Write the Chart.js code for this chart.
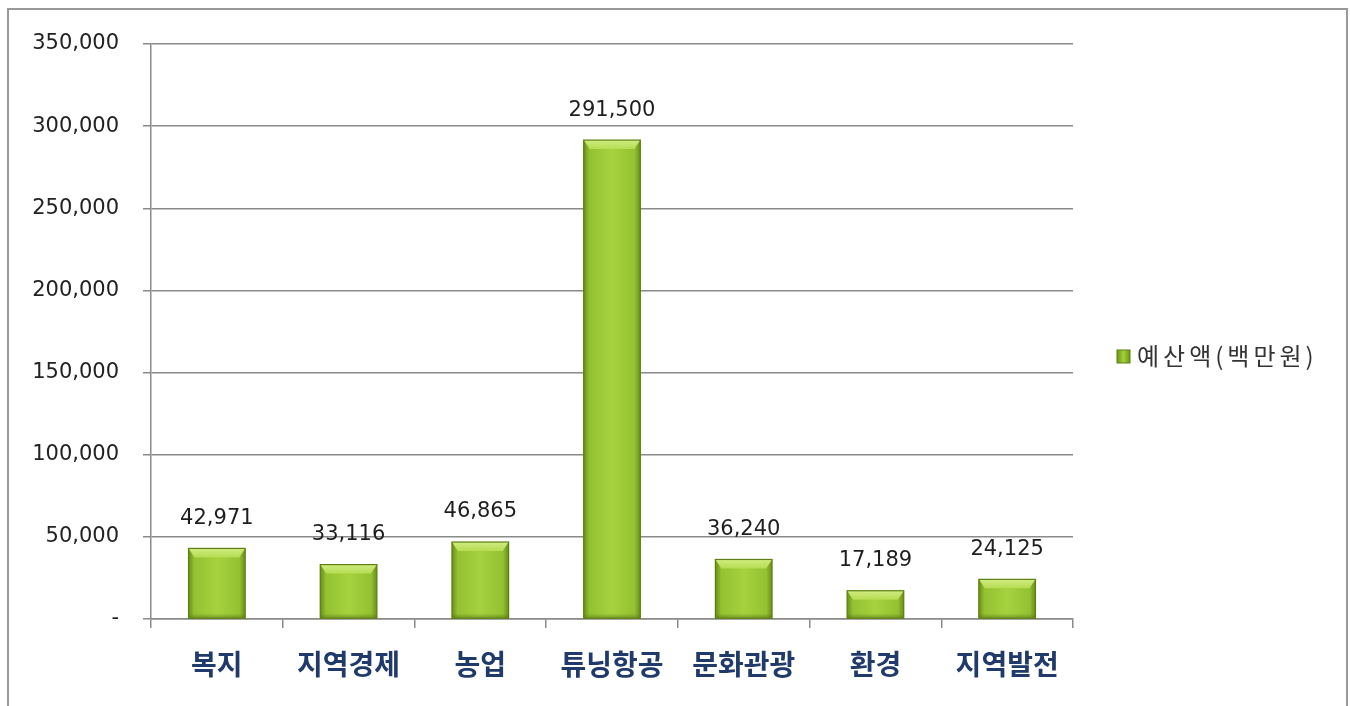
<!DOCTYPE html>
<html>
<head>
<meta charset="utf-8">
<script src="https://cdn.jsdelivr.net/npm/chart.js@4.4.1/dist/chart.umd.min.js"></script>
<style>
  html, body { margin: 0; padding: 0; background: #fff; overflow: hidden; }
  #wrap { position: relative; width: 1350px; height: 706px; }
  #frame { position: absolute; left: 7px; top: 8px; width: 1337px; height: 720px; border: 2px solid #999; pointer-events: none; }
</style>
</head>
<body>
<div id="wrap">
  <canvas id="budgetChart" width="1350" height="706"></canvas>
  <div id="frame"></div>
</div>
<script>
const categories = ['복지', '지역경제', '농업', '튜닝항공', '문화관광', '환경', '지역발전'];
const budget = [42971, 33116, 46865, 291500, 36240, 17189, 24125];
const seriesLabel = '예산액(백만원)';
const yTicks = [0, 50000, 100000, 150000, 200000, 250000, 300000, 350000];

const numFont = '"DejaVu Sans", Verdana, sans-serif';
const krFont = '"Noto Sans CJK KR", "Noto Sans", sans-serif';

function fmt(v) {
  return v === 0 ? '-' : v.toLocaleString('en-US');
}

// bevelled green bars, painted over the library's bar rectangles
const bevelBars = {
  id: 'bevelBars',
  afterDatasetsDraw(chart) {
    const ctx = chart.ctx;
    const values = chart.data.datasets[0].data;
    chart.getDatasetMeta(0).data.forEach((bar, i) => {
      const { x, y, base, width } = bar.getProps(['x', 'y', 'base', 'width'], true);
      const l = x - width / 2, r = x + width / 2, h = base - y;
      ctx.save();
      const g = ctx.createLinearGradient(l, 0, r, 0);
      g.addColorStop(0, '#6a8f18');
      g.addColorStop(0.1, '#93c131');
      g.addColorStop(0.5, '#a6d23f');
      g.addColorStop(0.9, '#93c131');
      g.addColorStop(1, '#6a8f18');
      ctx.fillStyle = g;
      ctx.fillRect(l, y, width, h);
      // top bevel
      const bev = Math.min(9, h / 3);
      ctx.beginPath();
      ctx.moveTo(l, y);
      ctx.lineTo(r, y);
      ctx.lineTo(r - 6, y + bev);
      ctx.lineTo(l + 6, y + bev);
      ctx.closePath();
      const tg = ctx.createLinearGradient(0, y, 0, y + bev);
      tg.addColorStop(0, '#d0ec80');
      tg.addColorStop(1, '#b5dc52');
      ctx.fillStyle = tg;
      ctx.fill();
      // bottom shade
      const bg = ctx.createLinearGradient(0, base - 5, 0, base);
      bg.addColorStop(0, 'rgba(90,120,20,0)');
      bg.addColorStop(1, 'rgba(90,120,20,0.6)');
      ctx.fillStyle = bg;
      ctx.fillRect(l, base - 5, width, 5);
      ctx.strokeStyle = '#5d7f14';
      ctx.lineWidth = 1.2;
      ctx.strokeRect(l, y, width, h);
      ctx.restore();

      // value label
      ctx.save();
      ctx.font = '21px ' + numFont;
      ctx.fillStyle = '#1e1e1e';
      ctx.textAlign = 'center';
      ctx.textBaseline = 'middle';
      ctx.fillText(fmt(values[i]), x, y - 30);
      ctx.restore();
    });
  },
  afterDraw(chart) {
    const ctx = chart.ctx;
    const lx = 1117, ly = 356;
    ctx.save();
    const g = ctx.createLinearGradient(lx, 0, lx + 13, 0);
    g.addColorStop(0, '#6a9616');
    g.addColorStop(0.5, '#a5d03a');
    g.addColorStop(1, '#6a9616');
    ctx.fillStyle = g;
    ctx.fillRect(lx, ly - 6, 13, 13);
    ctx.strokeStyle = '#5d7f14';
    ctx.lineWidth = 1;
    ctx.strokeRect(lx, ly - 6, 13, 13);
    ctx.font = '24px ' + krFont;
    ctx.letterSpacing = '4px';
    ctx.fillStyle = '#333';
    ctx.textAlign = 'left';
    ctx.textBaseline = 'middle';
    ctx.fillText(seriesLabel, lx + 20, ly);
    ctx.restore();
  }
};

new Chart(document.getElementById('budgetChart'), {
  type: 'bar',
  data: {
    labels: categories,
    datasets: [{
      label: seriesLabel,
      data: budget,
      backgroundColor: '#a6d23f',
      categoryPercentage: 1,
      barPercentage: 0.43
    }]
  },
  options: {
    responsive: false,
    animation: false,
    layout: { padding: { left: 0, top: 44, right: 277, bottom: 0 } },
    plugins: {
      legend: { display: false },
      tooltip: { enabled: false }
    },
    scales: {
      x: {
        grid: {
          drawOnChartArea: false,
          drawTicks: true,
          tickLength: 9,
          color: '#8a8a8a',
          lineWidth: 1.5
        },
        border: { color: '#8a8a8a', width: 1.5 },
        ticks: {
          color: '#1f3a6b',
          padding: 20,
          font: { family: krFont, size: 28, weight: 'bold' }
        },
        afterFit(s) { s.height = 87; }
      },
      y: {
        min: 0,
        max: 350000,
        afterBuildTicks(s) { s.ticks = yTicks.map(v => ({ value: v })); },
        grid: {
          color: '#8a8a8a',
          lineWidth: 1.5,
          tickLength: 8
        },
        border: { color: '#8a8a8a', width: 1.5 },
        ticks: {
          color: '#222',
          padding: 24,
          font: { family: numFont, size: 21 },
          callback: v => fmt(v)
        },
        afterFit(s) { s.width = 151; }
      }
    }
  },
  plugins: [bevelBars]
});
</script>
</body>
</html>
